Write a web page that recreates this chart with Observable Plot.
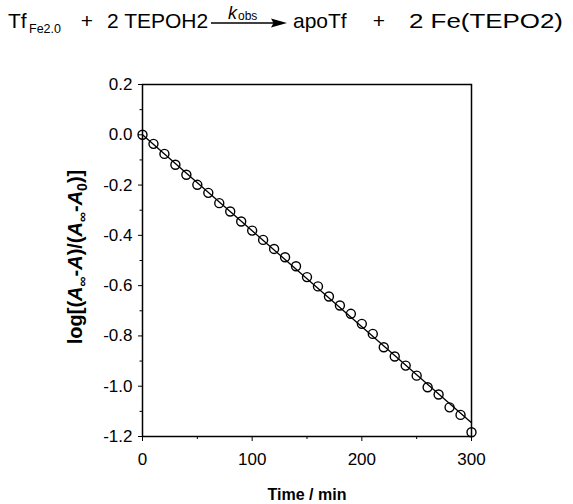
<!DOCTYPE html>
<html>
<head>
<meta charset="utf-8">
<script src="https://cdn.jsdelivr.net/npm/d3@7"></script>
<script src="https://cdn.jsdelivr.net/npm/@observablehq/plot@0.6"></script>
<style>
  html, body { margin: 0; padding: 0; background: #fff; }
  #wrap { width: 573px; height: 504px; position: relative; font-family: "Liberation Sans", Arial, sans-serif; }
  #title { display: block; }
</style>
</head>
<body>
<div id="wrap"></div>
<script>
// ---- data ----
const timeMin = [0,10,20,30,40,50,60,70,80,90,100,110,120,130,140,150,160,170,180,190,200,210,220,230,240,250,260,270,280,290,300];
const logRatio = [0.000,-0.036,-0.076,-0.119,-0.159,-0.199,-0.231,-0.272,-0.305,-0.345,-0.381,-0.418,-0.454,-0.487,-0.523,-0.566,-0.603,-0.643,-0.679,-0.712,-0.752,-0.792,-0.845,-0.882,-0.918,-0.958,-1.004,-1.033,-1.084,-1.114,-1.183];
const fitTime = [0, 300];
const fitValue = [0, -1.145];
const yMajorTicks = [0.2, 0.0, -0.2, -0.4, -0.6, -0.8, -1.0, -1.2];
const yMinorTicks = [0.1, -0.1, -0.3, -0.5, -0.7, -0.9, -1.1];
const xMajorTicks = [0, 100, 200, 300];
const xMinorTicks = [50, 150, 250];

const points = timeMin.map((t, i) => ({t, v: logRatio[i]}));
const fit = fitTime.map((t, i) => ({t, v: fitValue[i]}));

const FONT = '"Liberation Sans", Arial, sans-serif';
const wrap = document.getElementById("wrap");

// ---- title (reaction scheme) ----
const ts = d3.select(wrap).append("svg").attr("id", "title")
  .attr("width", 573).attr("height", 50)
  .style("font-family", FONT);
function txt(x, y, s, size, opts = {}) {
  const t = ts.append("text").attr("x", x).attr("y", y).attr("font-size", size).attr("fill", "#000").text(s);
  if (opts.anchor) t.attr("text-anchor", opts.anchor);
  if (opts.italic) t.attr("font-style", "italic");
  if (opts.len) t.attr("textLength", opts.len).attr("lengthAdjust", "spacingAndGlyphs");
  return t;
}
txt(8, 28, "Tf", 21);
txt(29, 33, "Fe2.0", 12.5);
txt(87, 28, "+", 21, {anchor: "middle"});
txt(107, 28, "2 TEPOH2", 21);
ts.append("line").attr("x1", 211).attr("x2", 275).attr("y1", 23).attr("y2", 23).attr("stroke", "#000").attr("stroke-width", 1.3);
ts.append("path").attr("d", "M287,23 L271,18.5 L273.5,23 L271,27.5 Z").attr("fill", "#000");
txt(228, 19, "k", 18, {italic: true});
txt(238, 20, "obs", 12);
txt(293, 28, "apoTf", 21);
txt(379, 28, "+", 21, {anchor: "middle"});
txt(409, 28, "2 Fe(TEPO2)", 21, {len: 154});

// ---- chart ----
const fmt = d => d.toFixed(1);
const chart = Plot.plot({
  width: 573,
  height: 454,
  marginTop: 34,
  marginBottom: 68,
  marginLeft: 142,
  marginRight: 102,
  style: {fontFamily: FONT, fontSize: "17px", color: "#000", background: "#fff"},
  x: {domain: [0, 300]},
  y: {domain: [-1.2, 0.2]},
  marks: [
    Plot.frame({stroke: "#000", strokeWidth: 1.5}),
    Plot.axisY({ticks: yMajorTicks, tickSize: 4, tickPadding: 6, tickFormat: fmt, label: null, fontSize: 17}),
    Plot.axisY({ticks: yMinorTicks, tickSize: 2.5, tickFormat: () => "", label: null}),
    Plot.axisX({ticks: xMajorTicks, tickSize: 5, tickPadding: 11, label: null, fontSize: 17}),
    Plot.axisX({ticks: xMinorTicks, tickSize: 3, tickFormat: () => "", label: null}),
    Plot.line(fit, {x: "t", y: "v", stroke: "#000", strokeWidth: 1.3}),
    Plot.dot(points, {x: "t", y: "v", r: 4.5, stroke: "#000", strokeWidth: 1.4, fill: "none"})
  ]
});
wrap.appendChild(chart);

// ---- axis titles with rich text ----
const svg = d3.select(chart);
function rich(textSel, parts) {
  let shifted = 0;
  parts.forEach(p => {
    const sp = textSel.append("tspan").text(p.t);
    const target = p.sub ? 5 : 0;
    if (target !== shifted) { sp.attr("dy", target - shifted); shifted = target; }
    if (p.italic) sp.attr("font-style", "italic");
    if (p.sub) sp.attr("font-size", "14px");
  });
}
const yl = svg.append("text")
  .attr("transform", "translate(82,207) rotate(-90)")
  .attr("text-anchor", "middle")
  .attr("font-family", FONT).attr("font-weight", "bold").attr("font-size", "20px")
  .attr("fill", "#000");
rich(yl, [
  {t: "log[("}, {t: "A", italic: true}, {t: "∞", sub: true}, {t: "-"}, {t: "A", italic: true},
  {t: ")/("}, {t: "A", italic: true}, {t: "∞", sub: true}, {t: "-"}, {t: "A", italic: true},
  {t: "0", sub: true}, {t: ")]"}
]);
svg.append("text")
  .attr("x", 307).attr("y", 450)
  .attr("text-anchor", "middle")
  .attr("font-family", FONT).attr("font-weight", "bold").attr("font-size", "16px")
  .attr("fill", "#000")
  .text("Time / min");
</script>
</body>
</html>
